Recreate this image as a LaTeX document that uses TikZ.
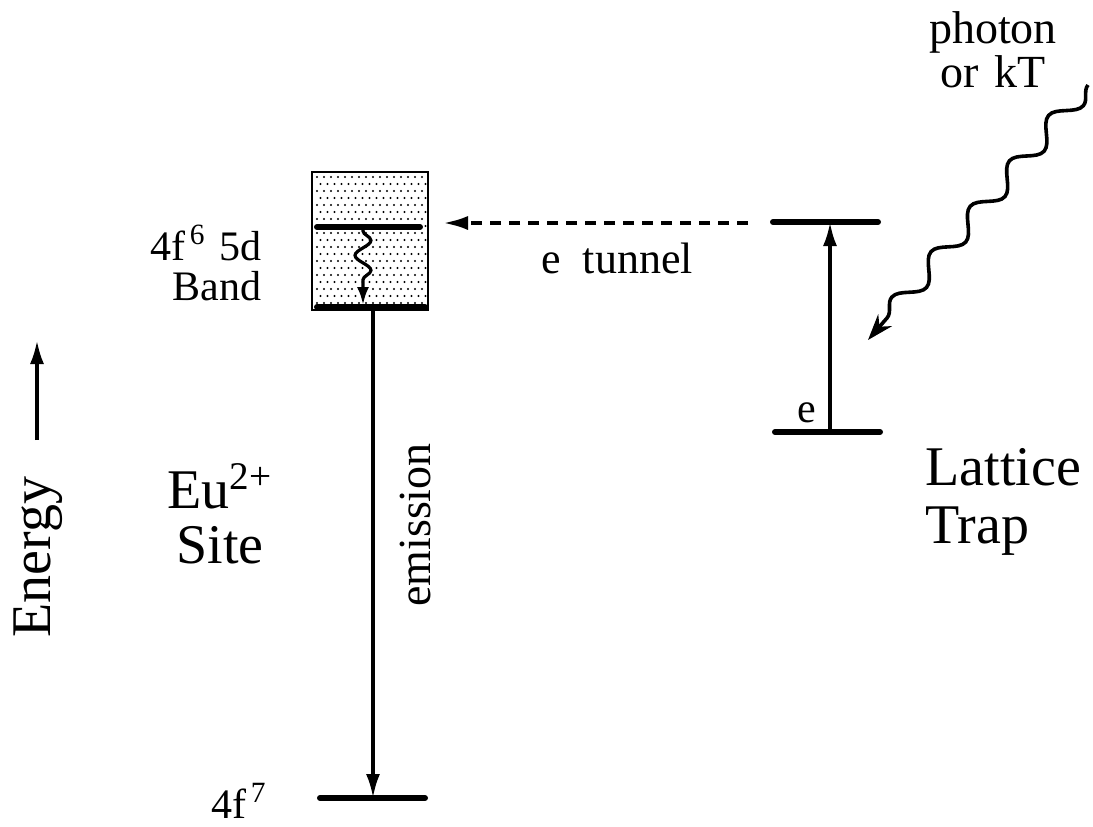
\documentclass[tikz,border=0pt]{standalone}
\usepackage{fontspec}
\setmainfont{Liberation Serif}
\usetikzlibrary{arrows.meta, decorations.pathmorphing}

\tikzset{
  enlevel/.style={line width=3pt, line cap=round},
  jump/.style={line width=1.8pt, -{Latex[length=12pt, width=7pt]}},
  bigtxt/.style={font=\fontsize{28}{29}\selectfont, inner sep=0pt},
  midtxt/.style={font=\fontsize{21}{20}\selectfont, inner sep=0pt},
}

\begin{document}
\begin{tikzpicture}[x=0.5pt, y=-0.5pt]
\useasboundingbox (0,0) rectangle (1093,826);

% 4f6 5d band
\draw[line width=0.8pt, fill=white] (312,172) rectangle (428,310);
\foreach \r in {0,...,18}{
  \foreach \c in {0,...,15}{
    \fill ({317+7*\c+3.5*mod(\r,2)},{177+7*\r}) circle (0.55pt);
  }
}

\coordinate (bandTopL) at (317,227);
\coordinate (bandTopR) at (420,227);
\coordinate (bandBotL) at (317,307);
\coordinate (bandBotR) at (425,307);
\coordinate (gndL) at (320,798);
\coordinate (gndR) at (425,798);
\coordinate (trapTopL) at (773,222);
\coordinate (trapTopR) at (878,222);
\coordinate (trapBotL) at (775,432);
\coordinate (trapBotR) at (880,432);

\draw[enlevel] (bandTopL) -- (bandTopR);
\draw[enlevel] (bandBotL) -- (bandBotR);
\draw[enlevel] (gndL) -- (gndR);
\draw[enlevel] (trapTopL) -- (trapTopR);
\draw[enlevel] (trapBotL) -- (trapBotR);

% transitions
\coordinate (emTop) at (373,307);
\coordinate (emBot) at (373,798);
\draw[jump] (emTop) -- (emBot);

\coordinate (trUp) at (830,222);
\coordinate (trLow) at (830,432);
\draw[jump] (trLow) -- (trUp);

\coordinate (tunStart) at (748,223);
\coordinate (tunEnd) at (442,223);
\draw[line width=2.2pt, dash pattern=on 5.5pt off 4pt, -{Latex[length=13pt, width=7pt]}]
  (tunStart) -- (tunEnd);

\coordinate (relaxTop) at (363,227);
\coordinate (relaxBot) at (363,305);
\draw[line width=1.6pt, -{Latex[length=9pt, width=6pt]},
  decorate, decoration={snake, amplitude=4pt, segment length=15pt,
  pre length=2pt, post length=8pt}]
  (relaxTop) -- (relaxBot);

\coordinate (phStart) at (1088,85);
\coordinate (phEnd) at (868,340);
\draw[line width=1.8pt, -{Stealth[length=13pt, width=9pt]},
  decorate, decoration={snake, amplitude=5pt, segment length=30pt,
  post length=10pt}]
  (phStart) -- (phEnd);

\coordinate (enLow) at (37,440);
\coordinate (enHigh) at (37,340);
\draw[jump] (enLow) -- (enHigh);

% labels
\node[bigtxt, rotate=90, anchor=base] (energy) at (50,557) {Energy};
\node[bigtxt, align=left, anchor=base west] (trap) at (925,543) {Lattice\\Trap};
\node[font=\fontsize{28}{27.5}\selectfont, inner sep=0pt, align=center, anchor=base]
  (site) at (220,563) {Eu\textsuperscript{2+}\\Site};
\node[midtxt, align=right, anchor=base east] (band) at (262,300)
  {4f\textsuperscript{\,6}\,\,5d\\Band};
\node[midtxt, anchor=base east] (gnd) at (267,818) {4f\textsuperscript{\,7}};
\node[font=\fontsize{23}{22}\selectfont, inner sep=0pt, align=center, anchor=base]
  (photon) at (993,87) {photon\\or\,\,kT};
\node[font=\fontsize{22}{22}\selectfont, inner sep=0pt, anchor=base]
  (tunnel) at (617,273) {e\,\,\,tunnel};
\node[font=\fontsize{23}{22}\selectfont, inner sep=0pt, rotate=90, anchor=base]
  (emission) at (430,525) {emission};
\node[font=\fontsize{21}{21}\selectfont, inner sep=0pt, anchor=base]
  (elec) at (807,422) {e};
\end{tikzpicture}
\end{document}
